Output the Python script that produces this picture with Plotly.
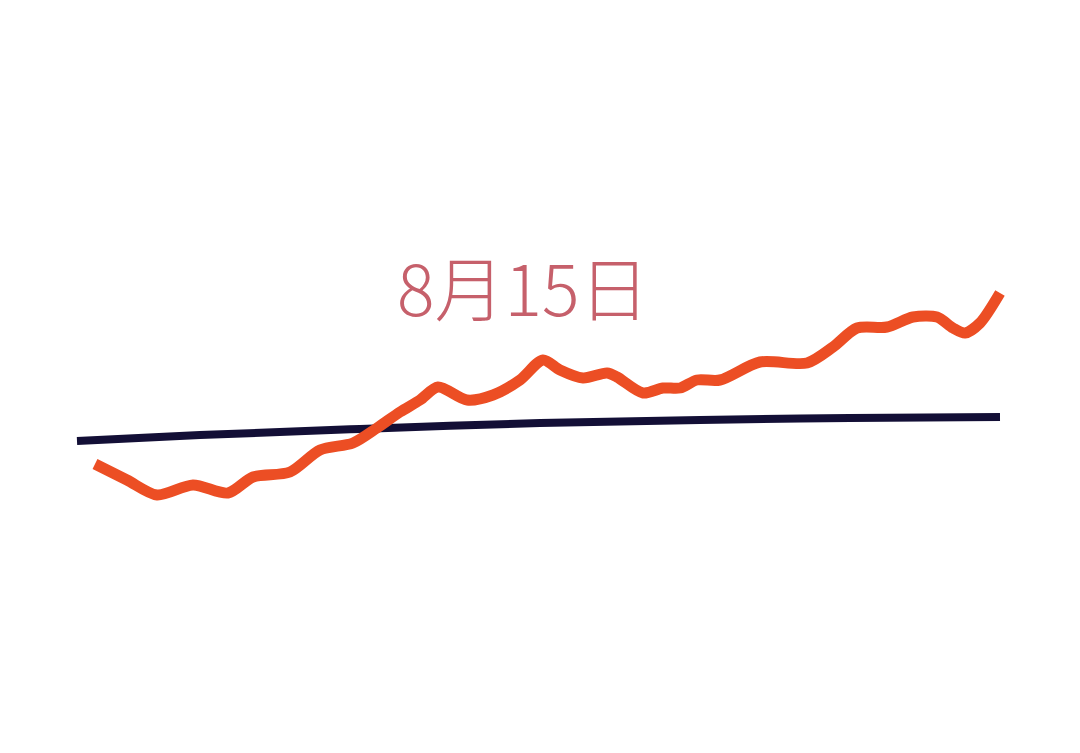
import plotly.graph_objects as go

# values (horizontal position, level), arbitrary units
price_x = [95, 127, 157, 193, 228, 253, 290, 320, 353, 377, 400, 420, 438, 467,
           493, 520, 543, 560, 583, 607, 617, 643, 663, 680, 697, 720, 760, 807,
           833, 857, 887, 913, 937, 953, 965, 980, 1000]
price_y = [289, 273, 258, 268, 260, 276, 281, 303, 310, 325, 341, 353, 366, 353,
           358, 373, 393, 383, 375, 380, 376, 360, 365, 365, 373, 373, 391, 390,
           406, 425, 426, 436, 436, 425, 420, 430, 460]

avg_x = [77, 200, 360, 540, 700, 850, 1000]
avg_y = [312, 318, 324, 330, 333, 335, 336]

label = "8月15日"

fig = go.Figure()
fig.add_trace(go.Scatter(x=avg_x, y=avg_y, mode="lines",
                         line=dict(color="#130f36", width=8, shape="spline")))
fig.add_trace(go.Scatter(x=price_x, y=price_y, mode="lines",
                         line=dict(color="#ec4e24", width=11, shape="spline",
                                   smoothing=0.8)))

# ranges offset by the page's 8px body margin
fig.update_layout(
    width=1080, height=753,
    margin=dict(l=0, r=0, t=0, b=0),
    paper_bgcolor="white",
    plot_bgcolor="white",
    showlegend=False,
    xaxis=dict(range=[8, 1088], visible=False),
    yaxis=dict(range=[-8, 745], visible=False),
    annotations=[dict(
        x=0.477, y=0.631, xref="paper", yref="paper",
        showarrow=False, text=label,
        font=dict(family="Noto Sans CJK SC", size=70, color="#c6606b",
                  weight=300))],
)

fig.write_html("out.html")
